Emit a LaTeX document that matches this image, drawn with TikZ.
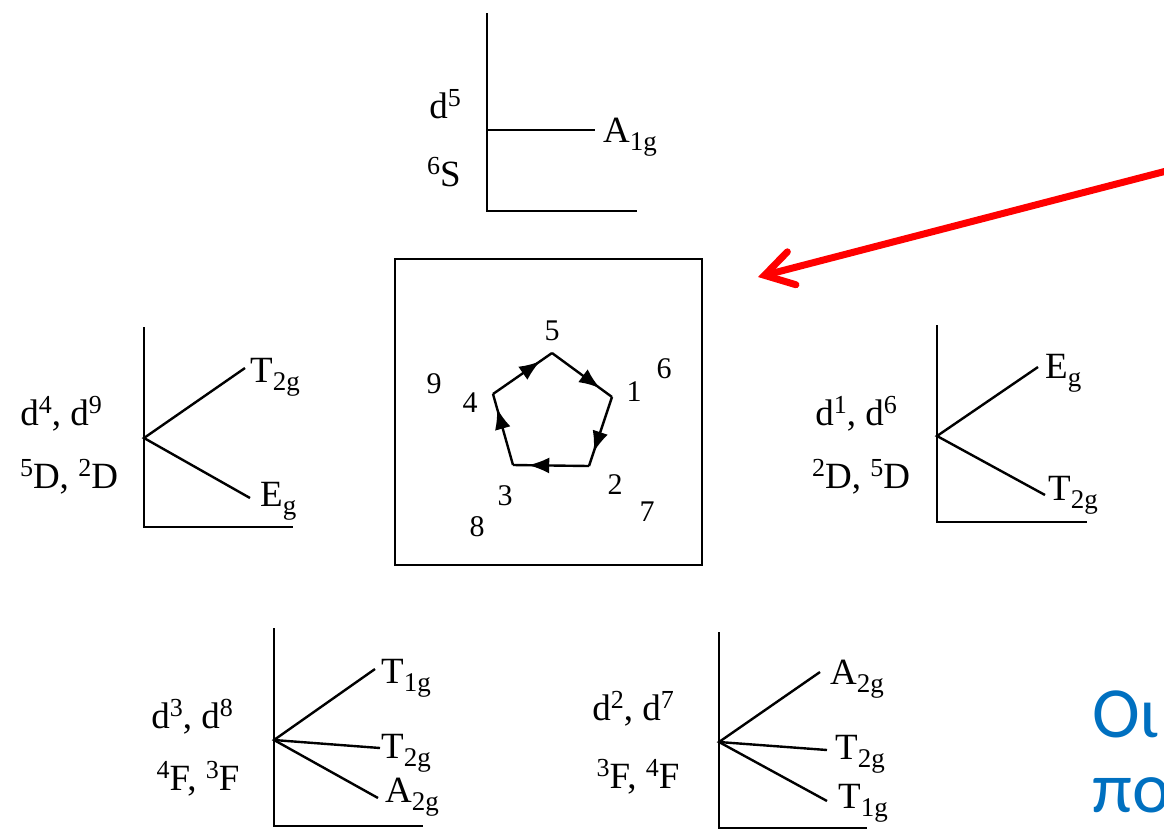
\documentclass[tikz,border=0pt]{standalone}
\usepackage{fontspec}
\setmainfont{Liberation Serif}
\newfontfamily\greekfont{Carlito}
\usetikzlibrary{arrows.meta,decorations.markings}
\definecolor{ptblue}{HTML}{0070C0}
\newcommand\mysup[1]{\raisebox{12pt}{\fontsize{26}{28}\selectfont #1}}
\newcommand\mysub[1]{\raisebox{-8pt}{\fontsize{27}{28}\selectfont #1}}
\begin{document}
\begin{tikzpicture}[x=1pt,y=-1pt,
  axis/.style={line width=2.4pt},
  level/.style={line width=2.4pt},
  lbl/.style={font=\fontsize{37}{40}\selectfont, inner sep=0pt, anchor=base},
  term/.style={font=\fontsize{37}{40}\selectfont, inner sep=0pt, anchor=base west},
  num/.style={font=\fontsize{30}{32}\selectfont, inner sep=0pt, anchor=base},
  cyc/.style={line width=2.4pt, postaction={decorate},
    decoration={markings, mark=at position 0.8 with {\arrow{Latex[length=21pt,width=16pt]}}}},
  redarrow/.style={draw=red, line width=7pt, line cap=round,
    -{Straight Barb[length=28pt,width=34pt,line cap=round]}},
  greek/.style={font=\greekfont\fontsize{72}{80}\selectfont, text=ptblue, inner sep=0pt, anchor=base west}
]
\useasboundingbox (0,0) rectangle (1164,831);

% top diagram d5
\coordinate (tT) at (487,13); \coordinate (tO) at (487,211); \coordinate (tR) at (637,211);
\coordinate (tL) at (487,130); \coordinate (tE) at (595,130);
\draw[axis] (tT) -- (tO) -- (tR);
\draw[level] (tL) -- (tE);
\node[term] (tA) at (603,142) {A\mysub{1g}};
\node[lbl] (td) at (445,118) {d\mysup{5}};
\node[lbl] (ts) at (444,186) {\mysup{6}S};

% central box
\node[draw, line width=2pt, minimum width=307pt, minimum height=306pt, inner sep=0pt] (box) at (548.5,412) {};
\coordinate (p5) at (552,353); \coordinate (p1) at (612,397); \coordinate (p2) at (589,466);
\coordinate (p3) at (513,465); \coordinate (p4) at (493,394);
\draw[cyc] (p4) -- (p5);
\draw[cyc] (p5) -- (p1);
\draw[cyc] (p1) -- (p2);
\draw[cyc] (p2) -- (p3);
\draw[cyc] (p3) -- (p4);
\node[num] (n5) at (552,340) {5};
\node[num] (n1) at (634,401) {1};
\node[num] (n6) at (664,378) {6};
\node[num] (n9) at (434,393) {9};
\node[num] (n4) at (470,412) {4};
\node[num] (n2) at (615,494) {2};
\node[num] (n7) at (647,521) {7};
\node[num] (n3) at (505,505) {3};
\node[num] (n8) at (477,536) {8};

% red arrow
\coordinate (rs) at (1178,168); \coordinate (rt) at (758,277);
\draw[redarrow] (rs) -- (rt);

% left diagram d4,d9
\coordinate (lT) at (144,327); \coordinate (lO) at (144,527); \coordinate (lR) at (293,527);
\coordinate (lV) at (144,438); \coordinate (lE1) at (245,368); \coordinate (lE2) at (250,498);
\draw[axis] (lT) -- (lO) -- (lR);
\draw[level] (lE1) -- (lV) -- (lE2);
\node[term] (lA) at (250,382) {T\mysub{2g}};
\node[term] (lB) at (260,506) {E\mysub{g}};
\node[lbl] (ld) at (61,425) {d\mysup{4}, d\mysup{9}};
\node[lbl] (ls) at (69,488) {\mysup{5}D, \mysup{2}D};

% right diagram d1,d6
\coordinate (rT) at (937,325); \coordinate (rO) at (937,522); \coordinate (rR) at (1087,522);
\coordinate (rV) at (937,436); \coordinate (rE1) at (1038,367); \coordinate (rE2) at (1045,495);
\draw[axis] (rT) -- (rO) -- (rR);
\draw[level] (rE1) -- (rV) -- (rE2);
\node[term] (rA) at (1045,378) {E\mysub{g}};
\node[term] (rB) at (1048,500) {T\mysub{2g}};
\node[lbl] (rd) at (856,425) {d\mysup{1}, d\mysup{6}};
\node[lbl] (rs2) at (861,488) {\mysup{2}D, \mysup{5}D};

% bottom-left diagram d3,d8
\coordinate (blT) at (274,628); \coordinate (blO) at (274,826); \coordinate (blR) at (423,826);
\coordinate (blV) at (274,740); \coordinate (blE1) at (375,669); \coordinate (blE2) at (380,748);
\coordinate (blE3) at (378,798);
\draw[axis] (blT) -- (blO) -- (blR);
\draw[level] (blE1) -- (blV) -- (blE3);
\draw[level] (blV) -- (blE2);
\node[term] (blA) at (381,683) {T\mysub{1g}};
\node[term] (blB) at (381,758) {T\mysub{2g}};
\node[term] (blC) at (385,802) {A\mysub{2g}};
\node[lbl] (bld) at (192,728) {d\mysup{3}, d\mysup{8}};
\node[lbl] (bls) at (198,790) {\mysup{4}F, \mysup{3}F};

% bottom-right diagram d2,d7
\coordinate (brT) at (719,632); \coordinate (brO) at (719,828); \coordinate (brR) at (867,828);
\coordinate (brV) at (719,742); \coordinate (brE1) at (820,672); \coordinate (brE2) at (827,750);
\coordinate (brE3) at (827,801);
\draw[axis] (brT) -- (brO) -- (brR);
\draw[level] (brE1) -- (brV) -- (brE3);
\draw[level] (brV) -- (brE2);
\node[term] (brA) at (830,684) {A\mysub{2g}};
\node[term] (brB) at (835,759) {T\mysub{2g}};
\node[term] (brC) at (838,808) {T\mysub{1g}};
\node[lbl] (brd) at (633,720) {d\mysup{2}, d\mysup{7}};
\node[lbl] (brs) at (638,788) {\mysup{3}F, \mysup{4}F};

% blue Greek text (cut off at the right edge)
\node[greek] (g1) at (1092,737) {Οι};
\node[greek] (g2) at (1092,812) {πο};
\end{tikzpicture}
\end{document}
